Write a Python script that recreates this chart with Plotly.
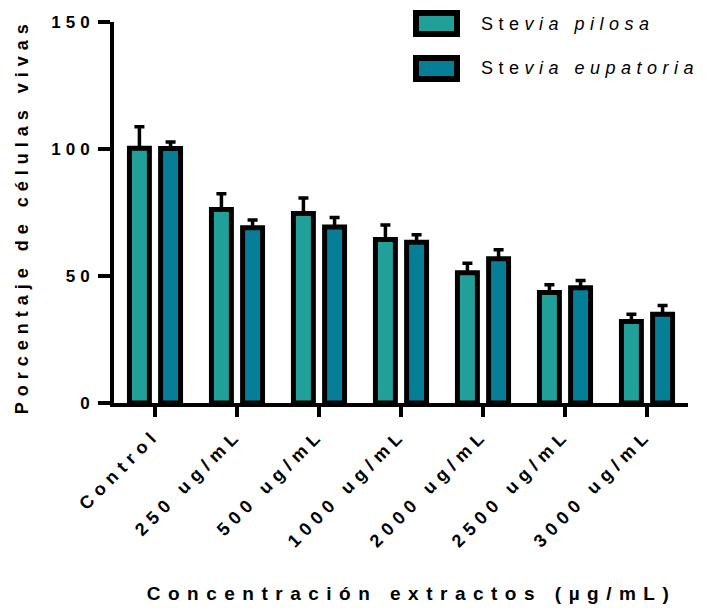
import plotly.graph_objects as go

categories = ["Control", "250 ug/mL", "500 ug/mL", "1000 ug/mL",
              "2000 ug/mL", "2500 ug/mL", "3000 ug/mL"]
pilosa = [100.3, 76.2, 74.6, 64.4, 51.3, 43.5, 32.1]
pilosa_sd = [8.5, 6.2, 6.1, 5.7, 3.7, 3.1, 2.8]
eupatoria = [100.2, 69.0, 69.3, 63.3, 56.8, 45.4, 34.9]
eupatoria_sd = [2.6, 3.0, 3.7, 2.9, 3.5, 2.8, 3.5]
y_ticks = [0, 50, 100, 150]

C_PIL = "#20a098"
C_EUP = "#077e98"
FONT = "Arial, Liberation Sans, sans-serif"

fig = go.Figure()
for name, vals, sd, col in [("Stevia pilosa", pilosa, pilosa_sd, C_PIL),
                            ("Stevia eupatoria", eupatoria, eupatoria_sd, C_EUP)]:
    fig.add_trace(go.Bar(
        x=categories, y=vals, name=name,
        marker=dict(color=col, line=dict(color="black", width=5)),
        error_y=dict(type="data", array=sd, arrayminus=[0] * len(sd),
                     symmetric=False, color="black", thickness=3.5, width=5),
        showlegend=False, hoverinfo="skip",
    ))

L, R, T, B = 114, 21, 22, 208
W, H = 709, 611
pw = W - L - R
ph = H - T - B

def px(x):
    return (x - L) / pw

def py(y):
    return (H - B - y) / ph

fig.update_layout(
    width=W, height=H,
    margin=dict(l=L, r=R, t=T, b=B),
    barmode="group", bargap=0.24, bargroupgap=0.36,
    plot_bgcolor="white", paper_bgcolor="white",
    font=dict(family=FONT, color="black"),
    xaxis=dict(
        type="category", range=[-0.5, 6.5],
        showline=True, linecolor="black", linewidth=4,
        ticks="outside", ticklen=10, tickwidth=3.5, tickcolor="black",
        tickangle=-45, showgrid=False, zeroline=False,
        tickfont=dict(family=FONT, size=18, weight="bold", color="black"),
    ),
    yaxis=dict(
        range=[0, 150], tickvals=y_ticks,
        showline=True, linecolor="black", linewidth=4,
        ticks="outside", ticklen=12, tickwidth=3.5, tickcolor="black",
        showgrid=False, zeroline=False,
        tickfont=dict(family=FONT, size=17, weight="bold", color="black"),
    ),
    annotations=[
        dict(text="Porcentaje de células vivas", xref="paper", yref="paper",
             x=px(22), y=0.49, xanchor="center", yanchor="middle",
             textangle=-90, showarrow=False,
             font=dict(family=FONT, size=18, weight="bold", color="black")),
        dict(text="Concentración extractos (µg/mL)", xref="paper", yref="paper",
             x=px(411), y=py(593), xanchor="center", yanchor="middle",
             showarrow=False,
             font=dict(family=FONT, size=19, weight="bold", color="black")),
        dict(text="Ste<i>via pilosa</i>", xref="paper", yref="paper",
             x=px(479), y=py(24), xanchor="left", yanchor="middle", align="left",
             showarrow=False, font=dict(family=FONT, size=18, color="black")),
        dict(text="Ste<i>via eupatoria</i>", xref="paper", yref="paper",
             x=px(479), y=py(68), xanchor="left", yanchor="middle", align="left",
             showarrow=False, font=dict(family=FONT, size=18, color="black")),
    ],
    shapes=[
        dict(type="rect", xref="paper", yref="paper",
             x0=px(416), x1=px(457), y0=py(34), y1=py(13),
             fillcolor=C_PIL, line=dict(color="black", width=6)),
        dict(type="rect", xref="paper", yref="paper",
             x0=px(416), x1=px(457), y0=py(79), y1=py(58),
             fillcolor=C_EUP, line=dict(color="black", width=6)),
    ],
)

post = """
document.body.style.margin = '0';
document.body.style.overflow = 'hidden';
var gd = document.getElementById('{plot_id}');
function ls() {
  gd.querySelectorAll('.xtick text').forEach(function(t){ t.style.letterSpacing = '6px'; });
  gd.querySelectorAll('.ytick text').forEach(function(t){ t.style.letterSpacing = '5px'; });
  var sp = {'0': '6px', '1': '7.5px', '2': '5.5px', '3': '5.5px'};
  gd.querySelectorAll('.annotation').forEach(function(a){
    var i = a.getAttribute('data-index');
    var t = a.querySelector('text');
    if (t && sp[i]) { t.style.letterSpacing = sp[i]; }
  });
}
ls();
gd.on('plotly_afterplot', ls);
"""

fig.write_html("out.html", post_script=post,
               config={"displayModeBar": False, "staticPlot": True})
